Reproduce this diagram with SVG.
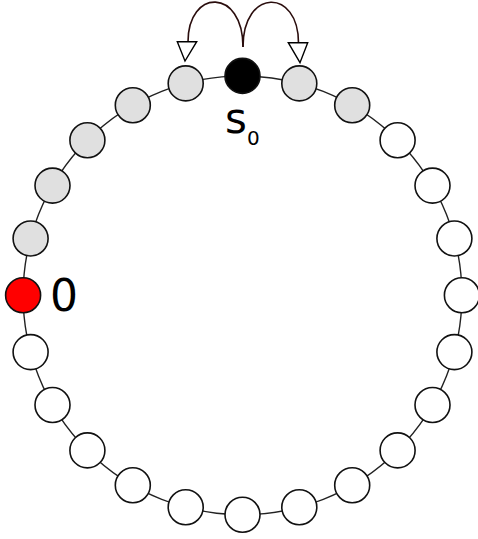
<svg xmlns="http://www.w3.org/2000/svg" width="478" height="539" viewBox="0 0 478 539">
<style>
.ring{fill:none;stroke:#222;stroke-width:1.4}
.n{stroke:#111;stroke-width:1.6}
.w{fill:#fff}
.g{fill:#e0e0e0}
.b{fill:#000}
.r{fill:#ff0000}
.arc{fill:none;stroke:#2a0d0d;stroke-width:1.6}
.head{fill:#fff;stroke:#000;stroke-width:1.4;stroke-linejoin:miter}
.t{font-family:"DejaVu Sans",sans-serif;fill:#000}
</style>
<rect width="478" height="539" fill="#fff"/>
<g id="connectors">
<circle class="ring" cx="242.5" cy="295.3" r="219.4"/>
<path class="arc" d="M243,47 C243,-12 188,-12 188,42"/>
<path class="arc" d="M243,47 C243,-12 298.5,-12 298.5,43"/>
<polygon class="head" points="177.3,41.7 196.7,41.7 185,61"/>
<polygon class="head" points="288.3,42.7 307.7,42.7 300,62.7"/>
</g>
<g id="node-s0"><circle class="n b" cx="242.5" cy="75.9" r="17.5"/></g>
<g id="node-r1"><circle class="n g" cx="299.3" cy="83.4" r="17.5"/></g>
<g id="node-r2"><circle class="n g" cx="352.2" cy="105.3" r="17.5"/></g>
<g id="node-r3"><circle class="n w" cx="397.6" cy="140.2" r="17.5"/></g>
<g id="node-r4"><circle class="n w" cx="432.5" cy="185.6" r="17.5"/></g>
<g id="node-r5"><circle class="n w" cx="454.4" cy="238.5" r="17.5"/></g>
<g id="node-r6"><circle class="n w" cx="461.9" cy="295.3" r="17.5"/></g>
<g id="node-r7"><circle class="n w" cx="454.4" cy="352.1" r="17.5"/></g>
<g id="node-r8"><circle class="n w" cx="432.5" cy="405.0" r="17.5"/></g>
<g id="node-r9"><circle class="n w" cx="397.6" cy="450.4" r="17.5"/></g>
<g id="node-r10"><circle class="n w" cx="352.2" cy="485.3" r="17.5"/></g>
<g id="node-r11"><circle class="n w" cx="299.3" cy="507.2" r="17.5"/></g>
<g id="node-bottom"><circle class="n w" cx="242.5" cy="514.7" r="17.5"/></g>
<g id="node-l11"><circle class="n w" cx="185.7" cy="507.2" r="17.5"/></g>
<g id="node-l10"><circle class="n w" cx="132.8" cy="485.3" r="17.5"/></g>
<g id="node-l9"><circle class="n w" cx="87.4" cy="450.4" r="17.5"/></g>
<g id="node-l8"><circle class="n w" cx="52.5" cy="405.0" r="17.5"/></g>
<g id="node-l7"><circle class="n w" cx="30.6" cy="352.1" r="17.5"/></g>
<g id="node-0"><circle class="n r" cx="23.1" cy="295.3" r="17.5"/></g>
<g id="node-l5"><circle class="n g" cx="30.6" cy="238.5" r="17.5"/></g>
<g id="node-l4"><circle class="n g" cx="52.5" cy="185.6" r="17.5"/></g>
<g id="node-l3"><circle class="n g" cx="87.4" cy="140.2" r="17.5"/></g>
<g id="node-l2"><circle class="n g" cx="132.8" cy="105.3" r="17.5"/></g>
<g id="node-l1"><circle class="n g" cx="185.7" cy="83.4" r="17.5"/></g>
<g id="labels">
<text class="t" x="225" y="133" font-size="42">s</text>
<text class="t" x="247" y="144.5" font-size="20">0</text>
<text class="t" x="50" y="311" font-size="44">0</text>
</g>
</svg>
